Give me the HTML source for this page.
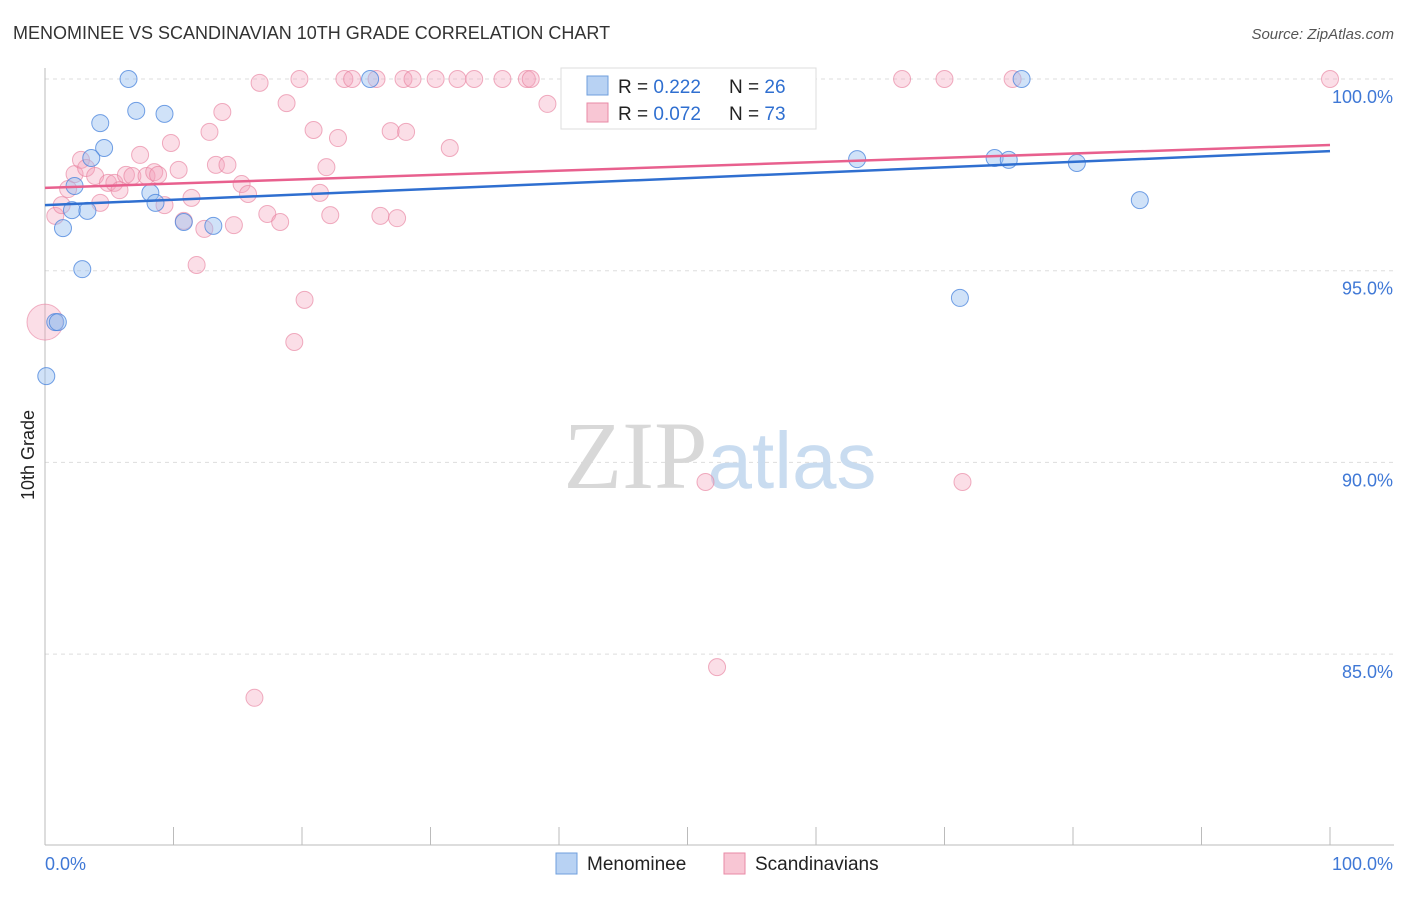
<!DOCTYPE html>
<html><head><meta charset="utf-8"><style>
body{margin:0;background:#fff;font-family:"Liberation Sans",sans-serif}
svg text{font-family:"Liberation Sans",sans-serif}
</style></head><body>
<svg width="1406" height="892" viewBox="0 0 1406 892">
<text x="13" y="39" font-size="18" fill="#333">MENOMINEE VS SCANDINAVIAN 10TH GRADE CORRELATION CHART</text>
<text x="1394" y="39" font-size="15" font-style="italic" fill="#555" text-anchor="end">Source: ZipAtlas.com</text>
<g id="grid"></g>
<g id="axes"></g>
<text x="720" y="488" font-size="96" text-anchor="middle" fill="#ddd"><tspan font-family="Liberation Serif" fill="#d8d8d8">ZIP</tspan><tspan fill="#c9dcf0" font-size="80">atlas</tspan></text>
<g id="pts"></g>
<g id="trends"></g>
<text transform="translate(34,455) rotate(-90)" font-size="18" text-anchor="middle" fill="#222">10th Grade</text>
<g>
<rect x="561" y="68" width="255" height="61" fill="#fff" stroke="#ddd"/>
<rect x="587" y="76" width="21" height="19" fill="#b8d2f3" stroke="#6f9fdc"/>
<rect x="587" y="103" width="21" height="19" fill="#f8c6d4" stroke="#e88aa6"/>
<text x="618" y="93" font-size="19" fill="#222">R = <tspan fill="#2f6fd0">0.222</tspan><tspan x="729">N = </tspan><tspan fill="#2f6fd0">26</tspan></text>
<text x="618" y="120" font-size="19" fill="#222">R = <tspan fill="#2f6fd0">0.072</tspan><tspan x="729">N = </tspan><tspan fill="#2f6fd0">73</tspan></text>
</g>
<g>
<rect x="556" y="853" width="21" height="21" fill="#b8d2f3" stroke="#6f9fdc"/>
<text x="587" y="870" font-size="19" fill="#222">Menominee</text>
<rect x="724" y="853" width="21" height="21" fill="#f8c6d4" stroke="#e88aa6"/>
<text x="755" y="870" font-size="19" fill="#222">Scandinavians</text>
</g>
</svg>
<script>
const yTicks=[100,95,90,85];
const yTickLabels=["100.0%","95.0%","90.0%","85.0%"];
const xTickLabels=["0.0%","100.0%"];
const blueX=[6.5,4.3,7.1,9.3,4.6,3.6,2.3,8.2,8.6,2.1,3.3,1.4,10.8,13.1,2.9,0.8,1.0,0.1,25.3,63.2,73.9,75.0,76.0,80.3,85.2,71.2];
const blueY=[100,98.85,99.17,99.09,98.2,97.94,97.21,97.03,96.77,96.58,96.56,96.11,96.27,96.17,95.04,93.66,93.66,92.25,100,97.91,97.94,97.89,100,97.81,96.84,94.29];
const pinkX=[0.8,1.3,1.8,2.3,2.8,3.2,3.9,4.3,4.9,5.4,5.8,6.3,6.8,7.4,7.9,8.5,8.8,9.3,9.8,10.4,10.8,11.4,11.8,12.4,12.8,13.3,13.8,14.2,14.7,15.3,15.8,16.3,16.7,17.3,18.3,18.8,19.4,19.8,20.2,20.9,21.4,21.9,22.2,22.8,23.3,23.9,25.8,26.1,26.9,27.4,27.9,28.1,28.6,30.4,31.5,32.1,33.4,35.6,37.5,37.8,39.1,42.0,47.1,51.4,52.3,66.7,70.0,71.4,75.3,100];
const pinkY=[96.43,96.71,97.13,97.52,97.89,97.68,97.47,96.77,97.29,97.29,97.1,97.5,97.47,98.02,97.47,97.57,97.5,96.71,98.33,97.63,96.3,96.9,95.15,96.09,98.62,97.76,99.14,97.76,96.19,97.26,97.0,83.86,99.9,96.48,96.27,99.37,93.14,100,94.24,98.67,97.03,97.7,96.45,98.46,100,100,100,96.43,98.64,96.37,100,98.62,100,100,98.2,100,100,100,100,100,99.35,100,100,89.49,84.66,100,100,89.49,100,100];
const blueTrend=[96.71,98.12];
const pinkTrend=[97.16,98.28];
const NS="http://www.w3.org/2000/svg";
const sx=v=>45+v*12.85;
const sy=v=>79+(100-v)*38.34;
function mk(tag,attrs,parent){const e=document.createElementNS(NS,tag);for(const k in attrs)e.setAttribute(k,attrs[k]);document.getElementById(parent).appendChild(e);return e;}
yTicks.forEach((t,i)=>{
 const l=mk('line',{x1:45,x2:1394,y1:sy(t),y2:sy(t),stroke:'#ddd','stroke-dasharray':'4,4'},'grid');
 
 
 const tx=mk('text',{x:1393,y:sy(t)+24,'font-size':18,fill:'#3f78d6','text-anchor':'end'},'axes');
 tx.textContent=yTickLabels[i];
 
 
});
const a1=mk('line',{x1:45,x2:45,y1:68,y2:845,stroke:'#bbb'},'axes');


const a2=mk('line',{x1:45,x2:1394,y1:845,y2:845,stroke:'#bbb'},'axes');


for(let i=0;i<=10;i++){const t=mk('line',{x1:sx(i*10),x2:sx(i*10),y1:827,y2:845,stroke:'#bbb'},'axes');
 
 }
const xl=mk('text',{x:45,y:870,'font-size':18,fill:'#3f78d6'},'axes');xl.textContent=xTickLabels[0];


const xr=mk('text',{x:1393,y:870,'font-size':18,fill:'#3f78d6','text-anchor':'end'},'axes');xr.textContent=xTickLabels[1];


const big=mk('circle',{cx:sx(0),cy:sy(93.66),r:18,fill:'rgba(244,160,185,0.35)',stroke:'rgba(232,130,160,0.6)'},'pts');


pinkX.forEach((x,i)=>{const c=mk('circle',{cx:sx(x),cy:sy(pinkY[i]),r:8.5,fill:'rgba(244,160,185,0.35)',stroke:'rgba(232,130,160,0.65)'},'pts');
 
 });
blueX.forEach((x,i)=>{const c=mk('circle',{cx:sx(x),cy:sy(blueY[i]),r:8.5,fill:'rgba(150,190,240,0.45)',stroke:'rgba(70,130,220,0.75)'},'pts');
 
 });
const pt=mk('line',{x1:sx(0),x2:sx(100),y1:sy(pinkTrend[0]),y2:sy(pinkTrend[1]),stroke:'#e8608e','stroke-width':2.5},'trends');


const bt=mk('line',{x1:sx(0),x2:sx(100),y1:sy(blueTrend[0]),y2:sy(blueTrend[1]),stroke:'#2f6fd0','stroke-width':2.5},'trends');


</script>
</body></html>
